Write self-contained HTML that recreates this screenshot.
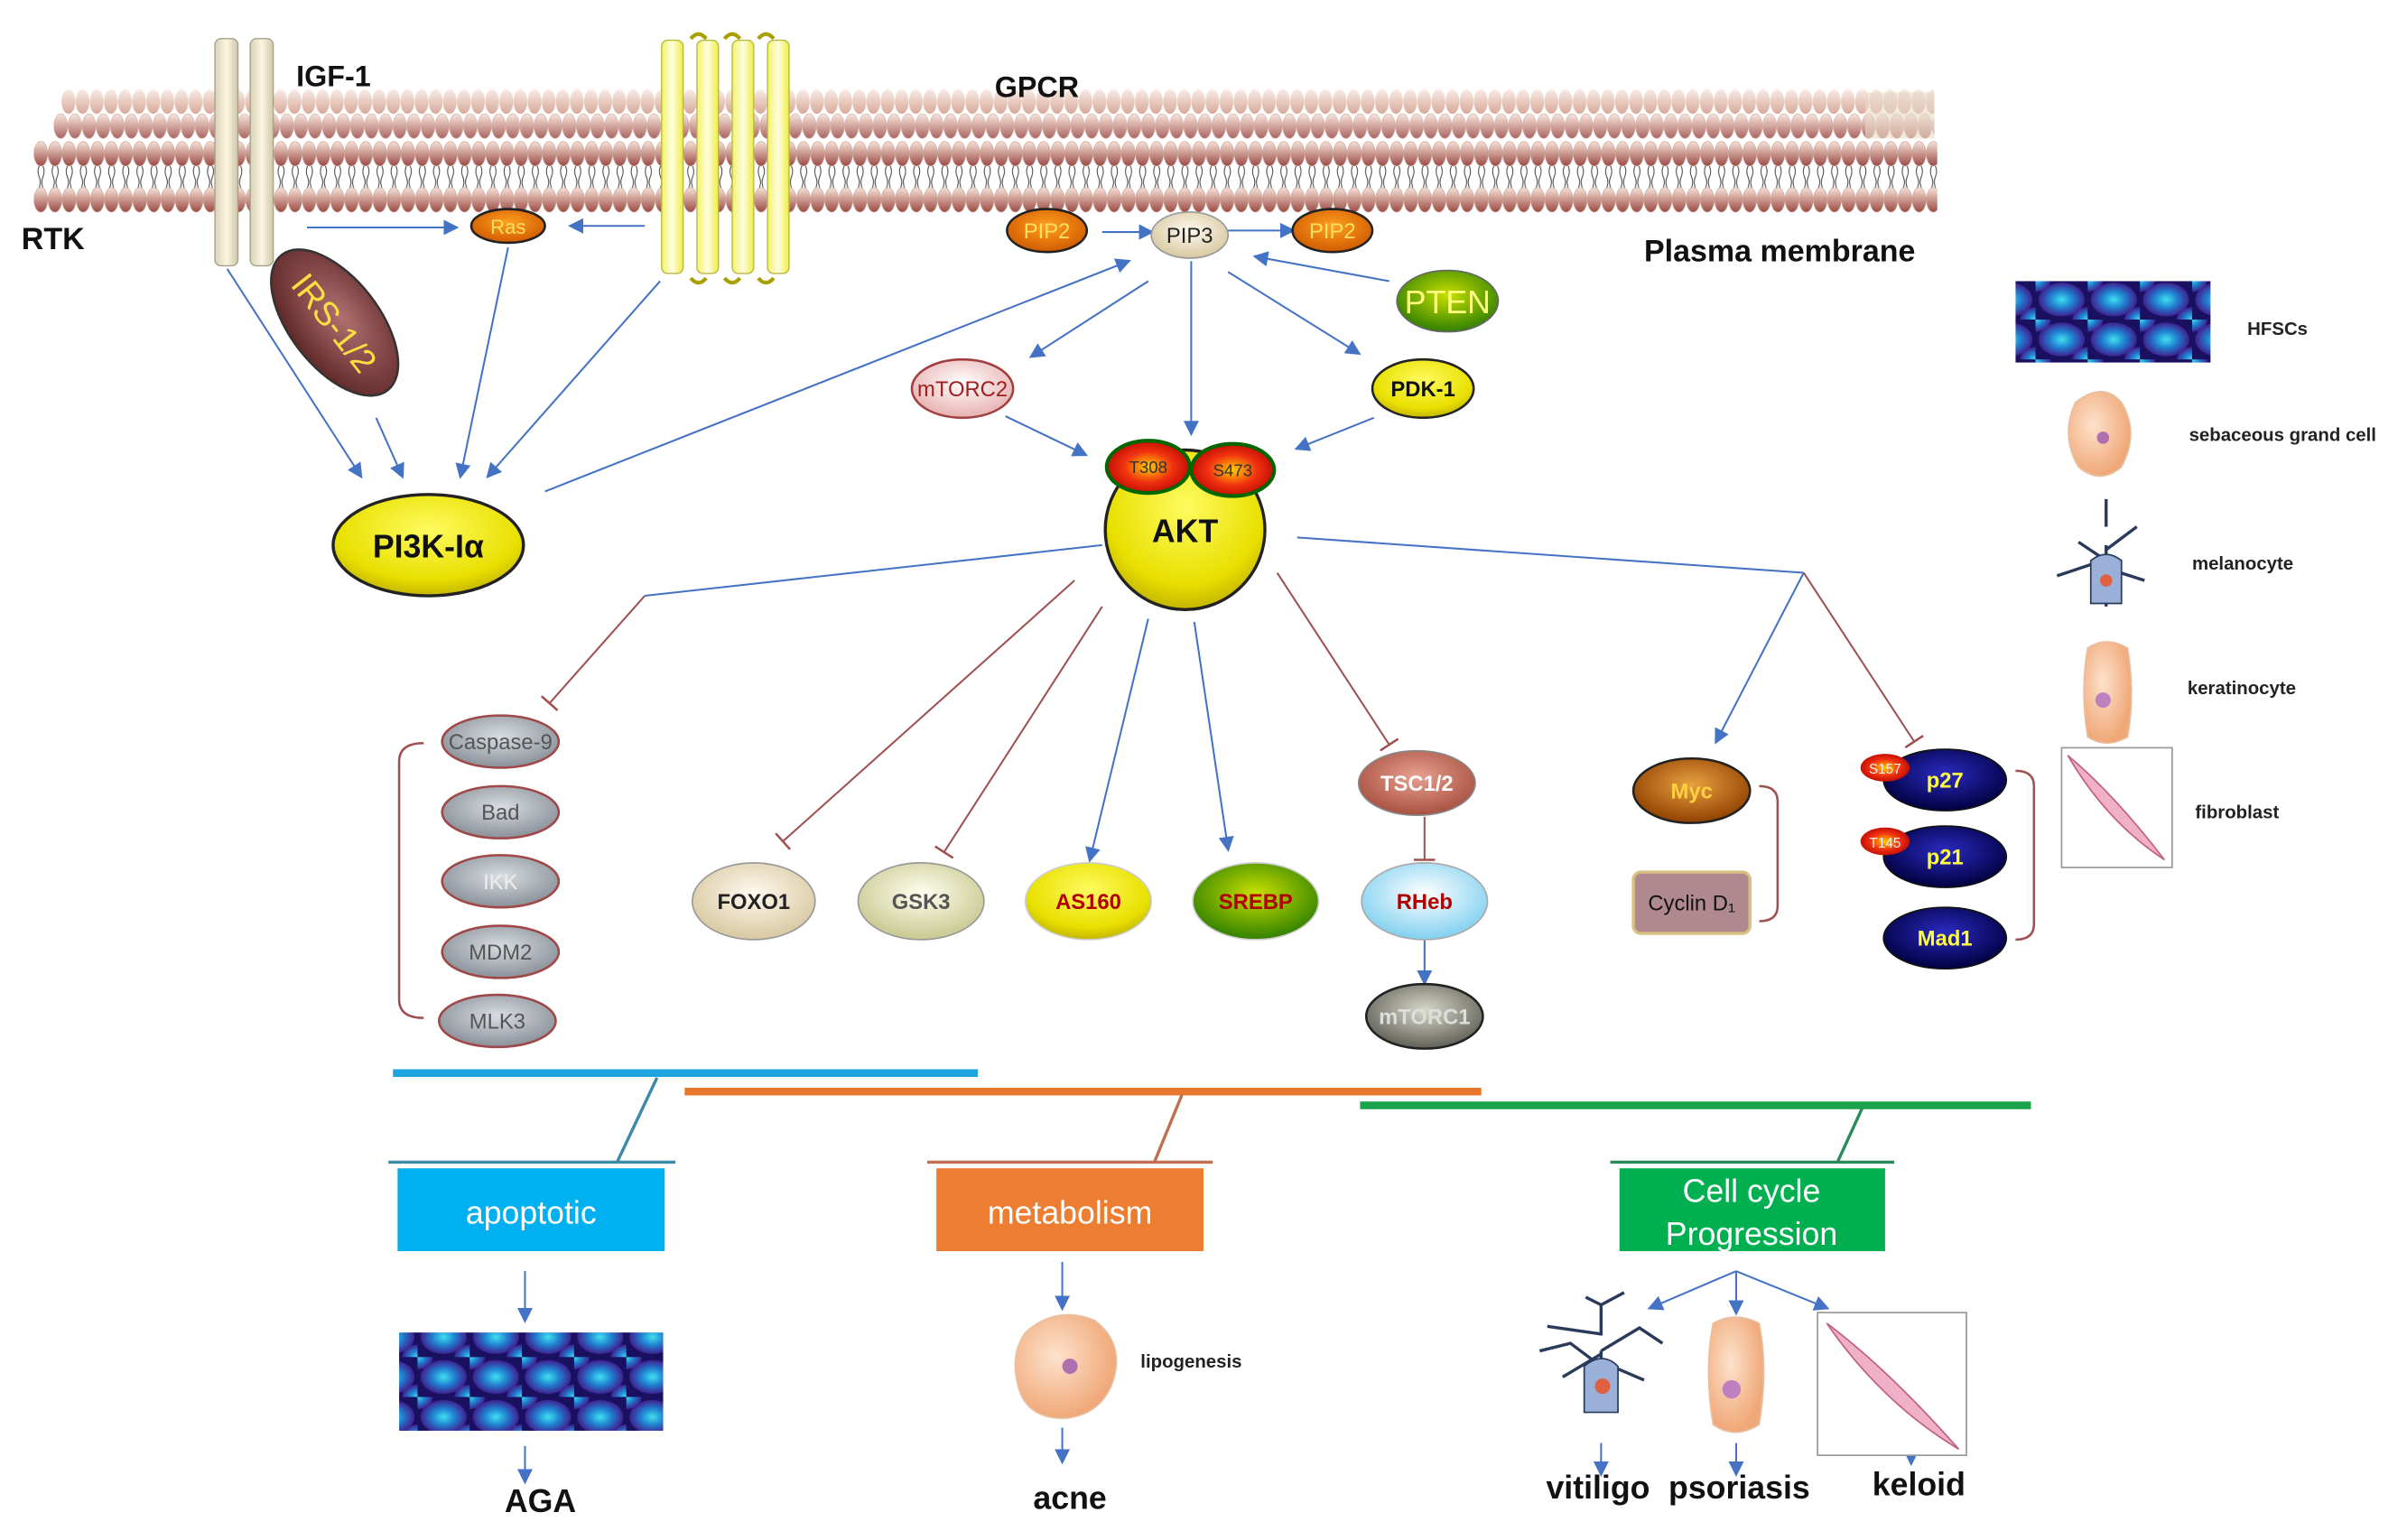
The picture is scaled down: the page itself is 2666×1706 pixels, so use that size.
<!DOCTYPE html>
<html><head><meta charset="utf-8"><style>
html,body{margin:0;padding:0;background:#fff;}
svg{display:block;}
text{font-family:"Liberation Sans",sans-serif;}
</style></head><body>
<svg width="2666" height="1706" viewBox="0 0 1568 1003" xmlns="http://www.w3.org/2000/svg">
<defs>
<linearGradient id="head" x1="0" y1="0" x2="0" y2="1"><stop offset="0" stop-color="#f6e2d6"/><stop offset="1" stop-color="#9c4a44"/></linearGradient>
<linearGradient id="headf" x1="0" y1="0" x2="0" y2="1"><stop offset="0" stop-color="#f8ece4"/><stop offset="1" stop-color="#d8a89a"/></linearGradient>
<pattern id="rowA" width="9.2" height="18" patternUnits="userSpaceOnUse"><ellipse cx="4.6" cy="9" rx="4.5" ry="8" fill="url(#headf)"/></pattern>
<pattern id="rowB" width="9.2" height="18" patternUnits="userSpaceOnUse"><ellipse cx="4.6" cy="9" rx="4.5" ry="8" fill="url(#head)" stroke="#c9a49a" stroke-width="0.4"/></pattern>
<pattern id="tails" width="9.2" height="14" patternUnits="userSpaceOnUse"><path d="M3.5 0 q-1.5 3.5 0 7 q1.5 3.5 0 7 M6 0 q1.5 3.5 0 7 q-1.5 3.5 0 7" stroke="#444" stroke-width="0.6" fill="none"/></pattern>
<linearGradient id="beige" x1="0" x2="1"><stop offset="0" stop-color="#d8d2b8"/><stop offset=".5" stop-color="#fbf5e2"/><stop offset="1" stop-color="#cfc8ac"/></linearGradient>
<linearGradient id="yel" x1="0" x2="1"><stop offset="0" stop-color="#f3f36a"/><stop offset=".5" stop-color="#fffde0"/><stop offset="1" stop-color="#eeee40"/></linearGradient>
<radialGradient id="ygold" cx=".5" cy=".35" r=".7"><stop offset="0" stop-color="#fffb60"/><stop offset=".7" stop-color="#e8e000"/><stop offset="1" stop-color="#b8a800"/></radialGradient>
<radialGradient id="org" cx=".5" cy=".4" r=".6"><stop offset="0" stop-color="#ffa020"/><stop offset="1" stop-color="#d05a00"/></radialGradient>
<radialGradient id="red" cx=".5" cy=".5" r=".6"><stop offset="0" stop-color="#ffcc00"/><stop offset=".5" stop-color="#f03010"/><stop offset="1" stop-color="#b00000"/></radialGradient>
<radialGradient id="grey" cx=".5" cy=".4" r=".6"><stop offset="0" stop-color="#d8dde2"/><stop offset="1" stop-color="#8a9098"/></radialGradient>
<radialGradient id="navy" cx=".5" cy=".4" r=".6"><stop offset="0" stop-color="#2a2ac0"/><stop offset="1" stop-color="#000040"/></radialGradient>
<radialGradient id="cream" cx=".5" cy=".4" r=".6"><stop offset="0" stop-color="#fffaf0"/><stop offset="1" stop-color="#d8c8a0"/></radialGradient>
<radialGradient id="olive" cx=".5" cy=".4" r=".6"><stop offset="0" stop-color="#fffff0"/><stop offset="1" stop-color="#c8c890"/></radialGradient>
<radialGradient id="grn" cx=".5" cy=".4" r=".6"><stop offset="0" stop-color="#c8e000"/><stop offset="1" stop-color="#308000"/></radialGradient>
<radialGradient id="blu" cx=".5" cy=".4" r=".6"><stop offset="0" stop-color="#ffffff"/><stop offset="1" stop-color="#80d0f0"/></radialGradient>
<radialGradient id="pink" cx=".5" cy=".4" r=".6"><stop offset="0" stop-color="#fff"/><stop offset="1" stop-color="#e8b0b0"/></radialGradient>
<radialGradient id="brn" cx=".5" cy=".4" r=".6"><stop offset="0" stop-color="#e8a040"/><stop offset="1" stop-color="#904000"/></radialGradient>
<radialGradient id="salm" cx=".5" cy=".4" r=".6"><stop offset="0" stop-color="#e8a090"/><stop offset="1" stop-color="#a85040"/></radialGradient>
<radialGradient id="dgrey" cx=".5" cy=".4" r=".6"><stop offset="0" stop-color="#d8d8c8"/><stop offset="1" stop-color="#606058"/></radialGradient>
<radialGradient id="irs" cx=".5" cy=".4" r=".6"><stop offset="0" stop-color="#b07070"/><stop offset="1" stop-color="#602828"/></radialGradient>
<radialGradient id="cell" cx=".4" cy=".4" r=".6"><stop offset="0" stop-color="#fde2cc"/><stop offset="1" stop-color="#f0a878"/></radialGradient>
<radialGradient id="hf" cx=".5" cy=".5" r=".5"><stop offset="0" stop-color="#40e0f0"/><stop offset=".5" stop-color="#2080d0"/><stop offset="1" stop-color="#402090"/></radialGradient>
<pattern id="hfp" width="34" height="26" patternUnits="userSpaceOnUse"><rect width="34" height="26" fill="#1a1060"/><ellipse cx="17" cy="13" rx="15" ry="11" fill="url(#hf)"/><ellipse cx="0" cy="0" rx="10" ry="8" fill="url(#hf)"/><ellipse cx="34" cy="26" rx="10" ry="8" fill="url(#hf)"/></pattern>
<marker id="ar" markerWidth="10" markerHeight="10" refX="8" refY="5" orient="auto" markerUnits="userSpaceOnUse"><path d="M0 0 L10 5 L0 10 Z" fill="#4472c4"/></marker>
<marker id="tb" markerWidth="4" markerHeight="14" refX="2" refY="7" orient="auto" markerUnits="userSpaceOnUse"><path d="M2 0 L2 14" stroke="#a05050" stroke-width="1.5"/></marker>
</defs>

<!-- membrane -->
<g transform="translate(40,57)"><rect x="0" y="0" width="1220" height="18" fill="url(#rowA)"/></g>
<g transform="translate(35,73)"><rect x="0" y="0" width="1225" height="18" fill="url(#rowB)" opacity=".85"/></g>
<g transform="translate(22,91)"><rect x="0" y="0" width="1240" height="18" fill="url(#rowB)"/></g>
<g transform="translate(22,108)"><rect x="0" y="0" width="1240" height="14" fill="url(#tails)"/></g>
<g transform="translate(22,121)"><rect x="0" y="0" width="1240" height="18" fill="url(#rowB)"/></g>
<rect x="1215" y="60" width="45" height="30" fill="#e8d8c8" opacity=".6"/>

<!-- RTK -->
<rect x="140" y="25" width="15" height="148" rx="4" fill="url(#beige)" stroke="#a8a088" stroke-width=".8"/>
<rect x="163" y="25" width="15" height="148" rx="4" fill="url(#beige)" stroke="#a8a088" stroke-width=".8"/>
<!-- GPCR -->
<g fill="url(#yel)" stroke="#b8b840" stroke-width=".8">
<rect x="431" y="26" width="14" height="152" rx="4"/><rect x="454" y="26" width="14" height="152" rx="4"/><rect x="477" y="26" width="14" height="152" rx="4"/><rect x="500" y="26" width="14" height="152" rx="4"/></g>
<g fill="none" stroke="#a8a000" stroke-width="2.5"><path d="M450 25 q5 -6 10 0 M472 25 q5 -6 10 0 M494 25 q5 -6 10 0 M450 181 q5 6 10 0 M472 181 q5 6 10 0 M494 181 q5 6 10 0"/></g>

<text x="193" y="56" font-size="19" font-weight="bold" fill="#111">IGF-1</text>
<text x="648" y="63" font-size="19" font-weight="bold" fill="#111">GPCR</text>
<text x="14" y="162" font-size="20" font-weight="bold" fill="#111">RTK</text>
<text x="1071" y="170" font-size="20" font-weight="bold" fill="#111">Plasma membrane</text>

<!-- arrows -->
<g stroke="#4472c4" stroke-width="1.2" fill="none" marker-end="url(#ar)">
<line x1="200" y1="148" x2="297" y2="148"/><line x1="420" y1="147" x2="372" y2="147"/>
<line x1="148" y1="175" x2="235" y2="310"/><line x1="245" y1="272" x2="262" y2="310"/>
<line x1="331" y1="161" x2="300" y2="310"/><line x1="430" y1="183" x2="318" y2="310"/>
<line x1="355" y1="320" x2="735" y2="170"/>
<line x1="718" y1="151" x2="750" y2="151"/><line x1="800" y1="150" x2="842" y2="150"/>
<line x1="905" y1="183" x2="818" y2="167"/>
<line x1="748" y1="183" x2="672" y2="232"/><line x1="776" y1="170" x2="776" y2="282"/><line x1="800" y1="177" x2="885" y2="230"/>
<line x1="655" y1="271" x2="707" y2="296"/><line x1="895" y1="272" x2="845" y2="292"/>
<line x1="748" y1="403" x2="710" y2="560"/><line x1="778" y1="405" x2="800" y2="553"/>
<line x1="1175" y1="373" x2="1118" y2="483"/>
<line x1="928" y1="612" x2="928" y2="640"/>
<line x1="342" y1="828" x2="342" y2="860"/><line x1="342" y1="942" x2="342" y2="965"/>
<line x1="692" y1="822" x2="692" y2="852"/><line x1="692" y1="930" x2="692" y2="952"/>
<line x1="1131" y1="828" x2="1075" y2="852"/><line x1="1131" y1="828" x2="1131" y2="855"/><line x1="1131" y1="828" x2="1190" y2="852"/>
<line x1="1043" y1="940" x2="1043" y2="960"/><line x1="1131" y1="940" x2="1131" y2="960"/><line x1="1245" y1="936" x2="1245" y2="953"/>
</g>
<polyline points="845,350 1175,373" stroke="#4472c4" stroke-width="1.2" fill="none"/>
<polyline points="718,355 420,388" stroke="#4472c4" stroke-width="1.2" fill="none"/>
<g stroke="#a05050" stroke-width="1.2" fill="none" marker-end="url(#tb)">
<line x1="420" y1="388" x2="358" y2="458"/>
<line x1="700" y1="378" x2="510" y2="548"/>
<line x1="718" y1="395" x2="615" y2="555"/>
<line x1="832" y1="373" x2="905" y2="485"/>
<line x1="1175" y1="373" x2="1247" y2="483"/>
<line x1="928" y1="532" x2="928" y2="560"/>
</g>

<!-- nodes -->
<ellipse cx="331" cy="147" rx="24" ry="11" fill="url(#org)" stroke="#222" stroke-width="1.5"/><text x="331" y="152" font-size="13" text-anchor="middle" fill="#ffe060">Ras</text>
<ellipse cx="682" cy="150" rx="26" ry="14" fill="url(#org)" stroke="#222" stroke-width="1.5"/><text x="682" y="155" font-size="14" text-anchor="middle" fill="#ffe060">PIP2</text>
<ellipse cx="775" cy="153" rx="25" ry="15" fill="url(#cream)" stroke="#999" stroke-width="1"/><text x="775" y="158" font-size="14" text-anchor="middle" fill="#222">PIP3</text>
<ellipse cx="868" cy="150" rx="26" ry="14" fill="url(#org)" stroke="#222" stroke-width="1.5"/><text x="868" y="155" font-size="14" text-anchor="middle" fill="#ffe060">PIP2</text>
<ellipse cx="943" cy="196" rx="33" ry="20" fill="url(#grn)" stroke="#666" stroke-width="1"/><text x="943" y="204" font-size="21" text-anchor="middle" fill="#ffff80">PTEN</text>
<ellipse cx="627" cy="253" rx="33" ry="19" fill="url(#pink)" stroke="#a04040" stroke-width="1.5"/><text x="627" y="258" font-size="14" text-anchor="middle" fill="#a02020">mTORC2</text>
<ellipse cx="927" cy="253" rx="33" ry="19" fill="url(#ygold)" stroke="#222" stroke-width="1.5"/><text x="927" y="258" font-size="14" font-weight="bold" text-anchor="middle" fill="#111">PDK-1</text>
<g transform="rotate(52 218 210)"><ellipse cx="218" cy="210" rx="56" ry="29" fill="url(#irs)" stroke="#333" stroke-width="1.5"/><text x="218" y="218" font-size="22" text-anchor="middle" fill="#ffe040">IRS-1/2</text></g>
<ellipse cx="279" cy="355" rx="62" ry="33" fill="url(#ygold)" stroke="#222" stroke-width="2"/><text x="279" y="363" font-size="21" font-weight="bold" text-anchor="middle" fill="#111">PI3K-Iα</text>
<circle cx="772" cy="345" r="52" fill="url(#ygold)" stroke="#222" stroke-width="2"/><text x="772" y="353" font-size="21" font-weight="bold" text-anchor="middle" fill="#111">AKT</text>
<ellipse cx="748" cy="304" rx="27" ry="17" fill="url(#red)" stroke="#060" stroke-width="2.5"/><text x="748" y="308" font-size="11" text-anchor="middle" fill="#333">T308</text>
<ellipse cx="803" cy="306" rx="27" ry="17" fill="url(#red)" stroke="#060" stroke-width="2.5"/><text x="803" y="310" font-size="11" text-anchor="middle" fill="#333">S473</text>

<g font-size="14" text-anchor="middle" fill="#555">
<ellipse cx="326" cy="483" rx="38" ry="17" fill="url(#grey)" stroke="#a04848" stroke-width="1.5"/><text x="326" y="488">Caspase-9</text>
<ellipse cx="326" cy="529" rx="38" ry="17" fill="url(#grey)" stroke="#a04848" stroke-width="1.5"/><text x="326" y="534">Bad</text>
<ellipse cx="326" cy="574" rx="38" ry="17" fill="url(#grey)" stroke="#a04848" stroke-width="1.5"/><text x="326" y="579" fill="#eee">IKK</text>
<ellipse cx="326" cy="620" rx="38" ry="17" fill="url(#grey)" stroke="#a04848" stroke-width="1.5"/><text x="326" y="625">MDM2</text>
<ellipse cx="324" cy="665" rx="38" ry="17" fill="url(#grey)" stroke="#a04848" stroke-width="1.5"/><text x="324" y="670">MLK3</text>
</g>
<path d="M276 484 q-16 0 -16 12 v155 q0 12 16 12" stroke="#a05050" stroke-width="1.5" fill="none"/>

<g font-size="14" text-anchor="middle" font-weight="bold">
<ellipse cx="491" cy="587" rx="40" ry="25" fill="url(#cream)" stroke="#999"/><text x="491" y="592" fill="#222">FOXO1</text>
<ellipse cx="600" cy="587" rx="41" ry="25" fill="url(#olive)" stroke="#999"/><text x="600" y="592" fill="#555">GSK3</text>
<ellipse cx="709" cy="587" rx="41" ry="25" fill="url(#ygold)" stroke="#ccc"/><text x="709" y="592" fill="#b00000">AS160</text>
<ellipse cx="818" cy="587" rx="41" ry="25" fill="url(#grn)" stroke="#ccc"/><text x="818" y="592" fill="#b00000">SREBP</text>
<ellipse cx="928" cy="587" rx="41" ry="25" fill="url(#blu)" stroke="#aaa"/><text x="928" y="592" fill="#b00000">RHeb</text>
<ellipse cx="923" cy="510" rx="38" ry="21" fill="url(#salm)" stroke="#888"/><text x="923" y="515" fill="#fff">TSC1/2</text>
<ellipse cx="928" cy="662" rx="38" ry="21" fill="url(#dgrey)" stroke="#222" stroke-width="1.5"/><text x="928" y="667" fill="#ddd">mTORC1</text>
<ellipse cx="1102" cy="515" rx="38" ry="21" fill="url(#brn)" stroke="#222" stroke-width="1.5"/><text x="1102" y="520" fill="#ffd040">Myc</text>
<rect x="1064" y="568" width="76" height="40" rx="5" fill="#b08890" stroke="#d8c080" stroke-width="2"/><text x="1102" y="593" fill="#111" font-weight="normal">Cyclin D₁</text>
<ellipse cx="1267" cy="508" rx="40" ry="20" fill="url(#navy)" stroke="#111"/><text x="1267" y="513" fill="#ffff40">p27</text>
<ellipse cx="1267" cy="558" rx="40" ry="20" fill="url(#navy)" stroke="#111"/><text x="1267" y="563" fill="#ffff40">p21</text>
<ellipse cx="1267" cy="611" rx="40" ry="20" fill="url(#navy)" stroke="#111"/><text x="1267" y="616" fill="#ffff40">Mad1</text>
</g>
<ellipse cx="1228" cy="500" rx="16" ry="9" fill="url(#red)"/><text x="1228" y="504" font-size="9" text-anchor="middle" fill="#eee">S157</text>
<ellipse cx="1228" cy="548" rx="16" ry="9" fill="url(#red)"/><text x="1228" y="552" font-size="9" text-anchor="middle" fill="#eee">T145</text>
<path d="M1146 512 q12 0 12 10 v68 q0 10 -12 10" stroke="#a05050" stroke-width="1.5" fill="none"/>
<path d="M1313 502 q12 0 12 10 v90 q0 10 -12 10" stroke="#a05050" stroke-width="1.5" fill="none"/>

<!-- category bars -->
<line x1="256" y1="699" x2="637" y2="699" stroke="#1ca5e0" stroke-width="5"/>
<line x1="446" y1="711" x2="965" y2="711" stroke="#e8772e" stroke-width="5"/>
<line x1="886" y1="720" x2="1323" y2="720" stroke="#1aa34a" stroke-width="5"/>
<line x1="428" y1="702" x2="402" y2="757" stroke="#3a8aa8" stroke-width="2"/>
<line x1="770" y1="713" x2="752" y2="757" stroke="#c07050" stroke-width="2"/>
<line x1="1213" y1="722" x2="1197" y2="757" stroke="#2a8a5a" stroke-width="2"/>
<line x1="253" y1="757" x2="440" y2="757" stroke="#3a8aa8" stroke-width="2"/>
<line x1="604" y1="757" x2="790" y2="757" stroke="#c07050" stroke-width="2"/>
<line x1="1049" y1="757" x2="1234" y2="757" stroke="#2a8a5a" stroke-width="2"/>
<rect x="259" y="761" width="174" height="54" fill="#00b0f0"/><text x="346" y="797" font-size="21" text-anchor="middle" fill="#fff">apoptotic</text>
<rect x="610" y="761" width="174" height="54" fill="#ed7d31"/><text x="697" y="797" font-size="21" text-anchor="middle" fill="#fff">metabolism</text>
<rect x="1055" y="761" width="173" height="54" fill="#00b050"/><text x="1141" y="783" font-size="21" text-anchor="middle" fill="#fff">Cell cycle</text><text x="1141" y="811" font-size="21" text-anchor="middle" fill="#fff">Progression</text>

<!-- images bottom -->
<rect x="260" y="868" width="172" height="64" fill="url(#hfp)"/>
<path d="M668 868 q20 -18 45 -8 q20 15 12 40 q-8 22 -32 24 q-25 0 -30 -22 q-5 -20 5 -34z" fill="url(#cell)" stroke="#e8c0a0"/><circle cx="697" cy="890" r="5" fill="#b070b0"/>
<text x="743" y="891" font-size="12" font-weight="bold" fill="#222">lipogenesis</text>
<g stroke="#2a3a5a" stroke-width="2" fill="none"><path d="M1043 920 v-40 m0 10 l-20 -15 l-20 5 m40 0 l25 -15 l15 10 m-40 -5 l0 -20 l-10 -5 m10 5 l15 -8 m-15 40 l-25 15 m25 -10 l28 12 m-28 -30 l-35 -5"/></g>
<path d="M1032 890 q12 -10 22 0 v30 h-22z" fill="#9ab0d8" stroke="#2a3a5a"/><circle cx="1044" cy="903" r="5" fill="#e06040"/>
<path d="M1116 862 q14 -8 30 0 q6 30 0 66 q-16 10 -30 0 q-6 -36 0 -66z" fill="url(#cell)" stroke="#e8c0a0"/><circle cx="1128" cy="905" r="6" fill="#c080c0"/>
<rect x="1184" y="855" width="97" height="93" fill="#fff" stroke="#999"/>
<path d="M1190 862 q40 30 86 82 q-50 -30 -86 -82z" fill="#f0b0c8" stroke="#c06080"/>
<text x="352" y="985" font-size="21" font-weight="bold" text-anchor="middle" fill="#111">AGA</text>
<text x="697" y="983" font-size="21" font-weight="bold" text-anchor="middle" fill="#111">acne</text>
<text x="1041" y="976" font-size="21" font-weight="bold" text-anchor="middle" fill="#111">vitiligo</text>
<text x="1133" y="976" font-size="21" font-weight="bold" text-anchor="middle" fill="#111">psoriasis</text>
<text x="1250" y="974" font-size="21" font-weight="bold" text-anchor="middle" fill="#111">keloid</text>

<!-- legend -->
<rect x="1313" y="183" width="127" height="53" fill="url(#hfp)"/>
<text x="1464" y="218" font-size="12" font-weight="bold" fill="#222">HFSCs</text>
<path d="M1352 262 q18 -14 30 0 q12 20 0 42 q-14 12 -28 0 q-12 -20 -2 -42z" fill="url(#cell)" stroke="#e8c0a0"/><circle cx="1370" cy="285" r="4" fill="#b070b0"/>
<text x="1426" y="287" font-size="12" font-weight="bold" fill="#222">sebaceous grand cell</text>
<g stroke="#2a3a5a" stroke-width="2" fill="none"><path d="M1372 395 v-40 m0 10 l-18 -12 m18 5 l20 -15 m-20 0 v-18 m-2 40 l-30 10 m32 -5 l25 8"/></g>
<path d="M1362 365 q10 -8 20 0 v28 h-20z" fill="#9ab0d8" stroke="#2a3a5a"/><circle cx="1372" cy="378" r="4" fill="#e06040"/>
<text x="1428" y="371" font-size="12" font-weight="bold" fill="#222">melanocyte</text>
<path d="M1360 422 q12 -8 26 0 q5 30 0 58 q-14 8 -26 0 q-5 -30 0 -58z" fill="url(#cell)" stroke="#e8c0a0"/><circle cx="1370" cy="456" r="5" fill="#c080c0"/>
<text x="1425" y="452" font-size="12" font-weight="bold" fill="#222">keratinocyte</text>
<rect x="1343" y="487" width="72" height="78" fill="#fff" stroke="#999"/>
<path d="M1347 492 q30 25 63 68 q-38 -25 -63 -68z" fill="#f0b0c8" stroke="#c06080"/>
<text x="1430" y="533" font-size="12" font-weight="bold" fill="#222">fibroblast</text>
</svg>
</body></html>
